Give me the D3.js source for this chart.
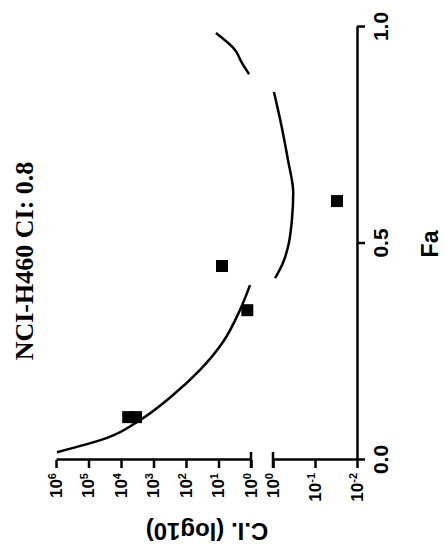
<!DOCTYPE html>
<html>
<head>
<meta charset="utf-8">
<script src="https://cdn.jsdelivr.net/npm/d3@7"></script>
<style>
  body { margin: 0; background: #fff; }
  text { fill: #000; }
</style>
</head>
<body>
<div class="chart"></div>
<script>
// chart is drawn upright, then turned -90deg as in the reference picture
const faTicks = [0, 0.5, 1];
const ciUpperTicks = [1e6, 1e5, 1e4, 1e3, 1e2, 1e1, 1e0];
const ciLowerTicks = [1, 0.1, 0.01];

// median-effect CI curve
const curveFa = [0.018, 0.051, 0.092, 0.150, 0.208, 0.273, 0.346, 0.404,
  0.420, 0.455, 0.492, 0.554, 0.617, 0.693, 0.769, 0.850,
  0.891, 0.917, 0.947, 0.986];
const curveCI = [933000, 26900, 2630, 251, 37, 7.2, 2.2, 1.07,
  0.89, 0.58, 0.44, 0.355, 0.33, 0.44, 0.62, 0.95,
  1.15, 1.9, 3.1, 12];

// measured combination points
const pointFa = [0.099, 0.099, 0.346, 0.448, 0.598];
const pointCI = [6000, 3460, 1.3, 7.8, 0.030];

const svgWidth = 446;
const svgHeight = 551;

const svg = d3.select('.chart')
  .append('svg')
  .attr('width', svgWidth)
  .attr('height', svgHeight);

// u = along Fa (upright x), v = along CI (upright y)
const graph = svg.append('g')
  .attr('transform', `translate(0,${svgHeight}) rotate(-90)`);

const x = d3.scaleLinear().domain([0, 1]).range([91, 524]);
const yUp = d3.scaleLog().domain([1, 1e6]).range([251, 56]);
const yLow = d3.scaleLog().domain([0.01, 1]).range([357, 273]);
const yOf = v => v >= 1 ? yUp(v) : yLow(v);

const sansFont = '"Liberation Sans", Arial, sans-serif';

// Fa axis
const xAxis = d3.axisBottom(x)
  .tickValues(faTicks)
  .tickFormat(d3.format('.1f'))
  .tickSize(8)
  .tickSizeOuter(0)
  .tickPadding(8);
const xAxisGroup = graph.append('g')
  .attr('transform', 'translate(0,357)')
  .call(xAxis);

// CI axis, two pieces with a break at 10^0
const supLabels = g => {
  g.selectAll('.tick text').each(function(d) {
    const t = d3.select(this);
    const e = Math.round(Math.log10(d));
    t.text('10');
    t.append('tspan')
      .attr('dy', '-0.55em')
      .attr('font-size', '11px')
      .text(e);
  });
};
const yUpGroup = graph.append('g')
  .attr('transform', 'translate(91,0)')
  .call(d3.axisLeft(yUp).tickValues(ciUpperTicks).tickSize(8).tickSizeOuter(0).tickPadding(5))
  .call(supLabels);
const yLowGroup = graph.append('g')
  .attr('transform', 'translate(91,0)')
  .call(d3.axisLeft(yLow).tickValues(ciLowerTicks).tickSize(8).tickSizeOuter(0).tickPadding(5))
  .call(supLabels);

[xAxisGroup, yUpGroup, yLowGroup].forEach(g => {
  g.selectAll('path, line')
    .attr('stroke', '#000')
    .attr('stroke-width', 2.5);
  g.selectAll('text')
    .attr('font-family', sansFont)
    .attr('font-weight', 'bold')
    .attr('fill', '#000');
});
xAxisGroup.selectAll('text').attr('font-size', 21);
yUpGroup.selectAll('.tick > text').attr('font-size', 17);
yLowGroup.selectAll('.tick > text').attr('font-size', 17);

// break caps
graph.selectAll('.break')
  .data([yUp(1), yLow(1)])
  .enter()
  .append('line')
  .attr('class', 'break')
  .attr('x1', 83).attr('x2', 99)
  .attr('y1', d => d).attr('y2', d => d)
  .attr('stroke', '#000')
  .attr('stroke-width', 2.5);

// curve, split where it crosses the break
const curve = curveFa.map((f, i) => ({fa: f, ci: curveCI[i]}));
const runs = [];
curve.forEach(d => {
  const side = d.ci >= 1;
  const last = runs[runs.length - 1];
  if (!last || last.side !== side) runs.push({side, pts: [d]});
  else last.pts.push(d);
});
const line = d3.line()
  .x(d => x(d.fa))
  .y(d => yOf(d.ci))
  .curve(d3.curveMonotoneX);
graph.selectAll('.ci-curve')
  .data(runs)
  .enter()
  .append('path')
  .attr('class', 'ci-curve')
  .attr('fill', 'none')
  .attr('stroke', '#000')
  .attr('stroke-width', 2.5)
  .attr('d', d => line(d.pts));

// points
const points = pointFa.map((f, i) => ({fa: f, ci: pointCI[i]}));
const size = 12;
graph.selectAll('.pt')
  .data(points)
  .enter()
  .append('rect')
  .attr('class', 'pt')
  .attr('x', d => x(d.fa) - size / 2)
  .attr('y', d => yOf(d.ci) - size / 2)
  .attr('width', size)
  .attr('height', size)
  .attr('fill', '#000');

// titles
graph.append('text')
  .attr('x', 290)
  .attr('y', 33)
  .attr('text-anchor', 'middle')
  .attr('font-family', '"Liberation Serif", "Times New Roman", serif')
  .attr('font-weight', 'bold')
  .attr('font-size', 26)
  .text('NCI-H460 CI: 0.8');

graph.append('text')
  .attr('x', 307)
  .attr('y', 438)
  .attr('text-anchor', 'middle')
  .attr('font-family', sansFont)
  .attr('font-weight', 'bold')
  .attr('font-size', 23)
  .text('Fa');

graph.append('text')
  .attr('transform', 'translate(28,207) rotate(-90)')
  .attr('text-anchor', 'middle')
  .attr('font-family', sansFont)
  .attr('font-weight', 'bold')
  .attr('font-size', 24)
  .text('C.I. (log10)');
</script>
</body>
</html>
